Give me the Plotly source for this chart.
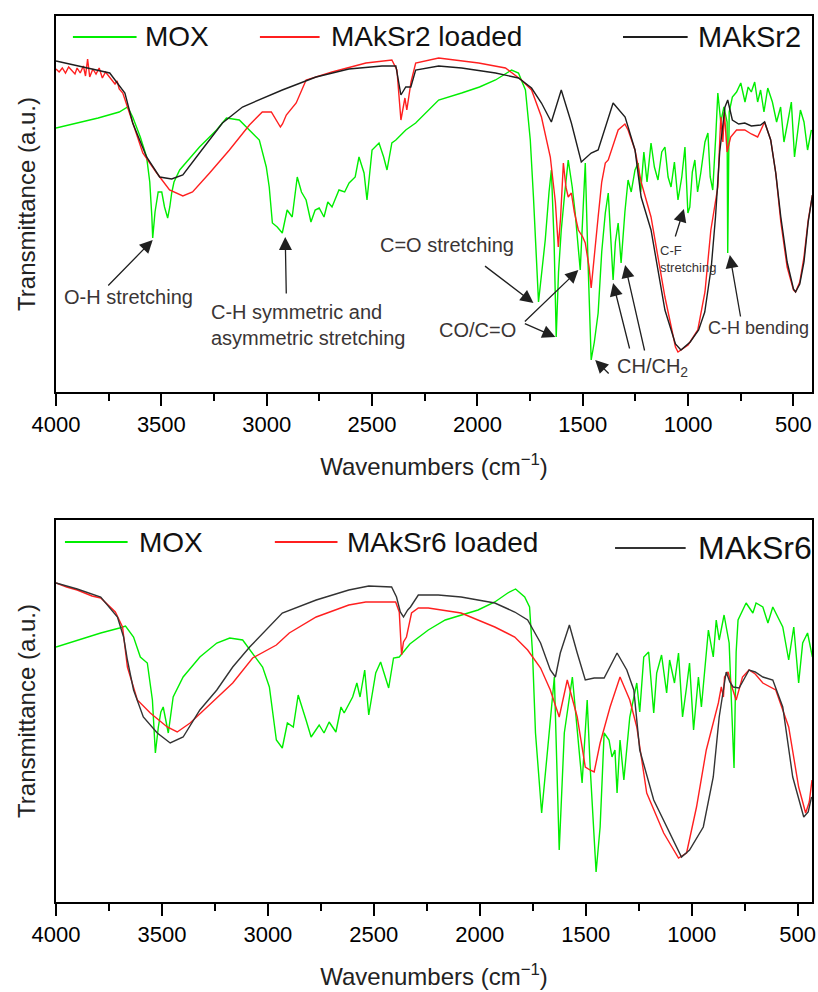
import plotly.graph_objects as go

# ---------------- data (wavenumber cm-1, transmittance a.u.) ----------------
# Top panel
top_black_wn = [4000, 3855, 3745, 3673, 3636, 3570, 3508, 3451, 3398, 3319, 3210, 3115, 2926, 2766, 2610, 2453,
                2387, 2363, 2340, 2316, 2293, 2184, 2075, 1914, 1805, 1743, 1696, 1649, 1602, 1554, 1507, 1460,
                1427, 1356, 1299, 1252, 1223, 1176, 1110, 1060, 1034, 990, 950, 921, 890, 870, 850, 825, 812,
                790, 760, 731, 700, 656, 637, 608, 584, 560, 530, 500, 490, 470, 450, 430, 410]
top_black = [331, 324, 319, 299, 269, 235, 215, 213, 217, 239, 269, 285, 302, 315, 323, 326,
             326, 297, 305, 305, 322, 326, 324, 319, 314, 304, 289, 270, 302, 269, 230, 239,
             242, 289, 275, 242, 195, 162, 82, 48, 42, 50, 62, 80, 125, 175, 240, 285, 292,
             272, 268, 269, 266, 267, 270, 252, 219, 175, 130, 103, 100, 108, 130, 170, 197]

top_red_wn = [4000, 3985, 3970, 3955, 3940, 3925, 3910, 3900, 3885, 3870, 3860, 3850, 3840, 3825, 3810, 3795,
              3780, 3765, 3750, 3735, 3720, 3710, 3700, 3683, 3660, 3640, 3588,
              3522, 3461, 3398, 3352, 3271, 3177, 3082, 3021, 2978, 2955, 2935, 2925, 2907, 2860, 2813, 2690,
              2529, 2406, 2382, 2363, 2350, 2344, 2335, 2315, 2293, 2184, 1994, 1867, 1791, 1743, 1696, 1654,
              1630, 1616, 1605, 1592, 1580, 1569, 1554, 1540, 1521, 1500, 1488, 1470, 1460, 1445, 1427, 1410,
              1393, 1379, 1332, 1300, 1285, 1252, 1223, 1176, 1110, 1060, 1048, 1000, 954, 920, 892, 859,
              845, 835, 828, 815, 798, 770, 731, 700, 670, 637, 608, 584, 560, 530, 500, 490, 470, 450,
              430, 410]
top_red = [323, 320, 324, 319, 325, 321, 318, 324, 319, 326, 316, 333, 315, 323, 318, 324,
           314, 320, 316, 312, 308, 311, 303, 299, 285, 272, 239,
           219, 202, 196, 200, 219, 242, 267, 280, 280, 272, 265, 268, 277, 289, 312, 320,
           329, 332, 322, 272, 290, 294, 282, 310, 329, 334, 329, 324, 312, 302, 275, 235,
           190, 145, 175, 229, 205, 195, 199, 180, 162, 155, 149, 125, 104, 140, 175, 210,
           229, 232, 262, 268, 262, 242, 210, 175, 95, 45, 40, 47, 62, 100, 162, 205,
           275, 250, 280, 240, 255, 262, 262, 258, 255, 270, 252, 219, 170, 125, 102, 100, 110, 135,
           172, 197]

top_green_wn = [4000, 3900, 3800, 3700, 3660, 3636, 3600, 3570, 3555, 3545, 3541, 3530, 3515, 3498, 3485, 3470,
                3460, 3451, 3440, 3413, 3319, 3238, 3191, 3130, 3082, 3035, 3002, 2988, 2973, 2950, 2926, 2903,
                2879, 2855, 2835, 2813, 2790, 2770, 2751, 2728, 2710, 2690, 2657, 2630, 2609, 2580, 2562, 2538,
                2524, 2500, 2467, 2445, 2429, 2406, 2387, 2340, 2293, 2231, 2184, 2075, 1990, 1914, 1838, 1805,
                1772, 1749, 1734, 1710, 1690, 1678, 1660, 1649, 1636, 1626, 1615, 1602, 1585, 1569, 1550, 1536,
                1512, 1500, 1488, 1475, 1460, 1445, 1427, 1410, 1393, 1379, 1368, 1356, 1345, 1332, 1318, 1300,
                1285, 1270, 1252, 1237, 1225, 1210, 1195, 1176, 1160, 1143, 1125, 1110, 1095, 1081, 1065, 1048,
                1030, 1015, 1001, 992, 980, 968, 955, 940, 920, 906, 895, 883, 869, 859, 845, 830,
                815, 812, 805, 790, 770, 750, 730, 715, 700, 684, 670, 656, 640, 622, 600, 580,
                561, 545, 528, 510, 495, 480, 467, 450, 433, 415]
top_green = [264, 269, 274, 280, 285, 275, 255, 235, 210, 175, 154, 180, 200, 200, 185, 174,
             185, 199, 210, 222, 245, 262, 274, 272, 262, 252, 225, 205, 169, 165, 159, 182,
             175, 215, 200, 192, 170, 182, 184, 175, 190, 185, 202, 200, 209, 215, 235, 219,
             192, 242, 249, 235, 222, 249, 252, 262, 269, 282, 292, 299, 305, 312, 322, 319,
             302, 252, 195, 90, 130, 152, 200, 222, 150, 55, 120, 162, 200, 232, 205, 179,
             122, 175, 229, 130, 32, 50, 79, 140, 179, 199, 160, 112, 150, 169, 129, 180,
             212, 200, 222, 229, 200, 240, 210, 249, 225, 212, 240, 245, 215, 205, 230, 192,
             215, 245, 179, 185, 220, 232, 200, 219, 250, 259, 215, 202, 255, 299, 270, 285,
             270, 139, 280, 295, 300, 309, 290, 305, 300, 310, 290, 302, 280, 304, 290, 270,
             285, 250, 269, 290, 235, 260, 282, 270, 242, 262]

# Bottom panel
bot_black_wn = [4000, 3900, 3789, 3710, 3681, 3663, 3634, 3588, 3522, 3461, 3400, 3321, 3241, 3166, 3086, 3007,
                2932, 2772, 2618, 2524, 2416, 2393, 2375, 2360, 2340, 2327, 2290, 2196, 2088, 1929, 1835, 1774,
                1713, 1667, 1643, 1620, 1577, 1540, 1502, 1460, 1413, 1352, 1306, 1273, 1245, 1179, 1104, 1048,
                1010, 945, 898, 870, 837, 820, 804, 776, 729, 700, 664, 617, 570, 523, 471, 450, 434]
bot_black = [329, 323, 315, 295, 275, 252, 222, 195, 179, 169, 175, 202, 222, 245, 265, 282,
             299, 312, 322, 326, 325, 315, 300, 295, 302, 305, 317, 317, 315, 309, 300, 292,
             269, 242, 235, 259, 287, 259, 232, 234, 234, 259, 242, 222, 162, 112, 79, 55,
             62, 85, 135, 195, 240, 230, 225, 224, 242, 240, 235, 232, 205, 135, 95, 100, 115]

bot_red_wn = [4000, 3950, 3900, 3869, 3830, 3789, 3720, 3686, 3663, 3616, 3555, 3475, 3428, 3367, 3288, 3166, 3072, 2960,
              2899, 2772, 2618, 2538, 2397, 2380, 2369, 2360, 2346, 2322, 2290, 2243, 2088, 1929, 1835, 1774,
              1713, 1667, 1625, 1587, 1540, 1502, 1480, 1460, 1432, 1385, 1338, 1292, 1259, 1212, 1132, 1062,
              1024, 977, 931, 874, 860, 850, 845, 828, 810, 790, 760, 729, 700, 664, 603, 542, 495, 462,
              445, 432]
bot_red = [329, 325, 322, 319, 316, 314, 300, 285, 245, 212, 199, 185, 180, 189, 205, 229, 254, 267,
           279, 295, 307, 310, 310, 300, 257, 270, 275, 299, 304, 304, 299, 285, 275, 262,
           244, 222, 195, 232, 195, 145, 142, 140, 169, 205, 235, 212, 185, 119, 79, 54,
           59, 105, 162, 209, 225, 215, 235, 240, 225, 212, 235, 242, 238, 229, 222, 185, 125, 99,
           110, 132]

bot_green_wn = [4000, 3900, 3789, 3700, 3672, 3634, 3602, 3569, 3545, 3531, 3517, 3505, 3494, 3470, 3447, 3400,
                3321, 3241, 3180, 3119, 3072, 3025, 2993, 2960, 2932, 2908, 2880, 2857, 2820, 2796, 2758, 2735,
                2711, 2679, 2655, 2640, 2600, 2580, 2565, 2543, 2524, 2491, 2468, 2444, 2430, 2407, 2380, 2330,
                2289, 2243, 2163, 2088, 2008, 1929, 1868, 1831, 1788, 1765, 1751, 1737, 1708, 1680, 1648, 1625,
                1601, 1563, 1540, 1517, 1493, 1479, 1451, 1432, 1413, 1390, 1376, 1362, 1352, 1338, 1320, 1292,
                1259, 1245, 1226, 1203, 1179, 1165, 1142, 1118, 1104, 1081, 1062, 1043, 1024, 1010, 991, 968,
                954, 921, 898, 884, 870, 847, 823, 800, 790, 781, 743, 711, 696, 664, 640, 617,
                570, 542, 518, 495, 476, 453, 430]
bot_green = [265, 272, 279, 284, 286, 275, 255, 249, 212, 159, 185, 200, 205, 179, 215, 235,
             255, 269, 274, 272, 259, 245, 225, 172, 164, 189, 185, 217, 192, 175, 187, 179,
             190, 180, 205, 199, 215, 229, 215, 242, 197, 239, 250, 232, 224, 254, 255, 268,
             275, 282, 292, 297, 302, 310, 319, 323, 315, 305, 259, 179, 99, 162, 235, 62,
             179, 235, 179, 129, 212, 145, 40, 85, 179, 172, 155, 162, 119, 172, 132, 195,
             229, 200, 255, 260, 199, 239, 257, 219, 252, 229, 259, 195, 225, 249, 182, 235,
             205, 282, 255, 292, 272, 297, 269, 144, 260, 292, 309, 299, 309, 305, 289, 305,
             285, 252, 285, 229, 269, 279, 255]

x_ticks = [4000, 3500, 3000, 2500, 2000, 1500, 1000, 500]
x_minor = [3750, 3250, 2750, 2250, 1750, 1250, 750]
top_names = ["MOX", "MAkSr2 loaded", "MAkSr2"]
bot_names = ["MOX", "MAkSr6 loaded", "MAkSr6"]

GREEN = "#00ee00"
RED = "#ff1f1f"
BLACK = "#1e1e1e"
FONT = "Liberation Sans, Arial, sans-serif"

# ---------------- layout helpers (pixel -> paper) ----------------
W, H = 818, 992
ML, MR, MT, MB = 56, 2, 16, 90
PW, PH = W - ML - MR, H - MT - MB


def fx(px):
    return (px - ML) / PW


def fy(py):
    return (H - MB - py) / PH


fig = go.Figure()

series = [
    ("x", "y", top_green_wn, top_green, GREEN, top_names[0]),
    ("x", "y", top_red_wn, top_red, RED, top_names[1]),
    ("x", "y", top_black_wn, top_black, BLACK, top_names[2]),
    ("x2", "y2", bot_green_wn, bot_green, GREEN, bot_names[0]),
    ("x2", "y2", bot_red_wn, bot_red, RED, bot_names[1]),
    ("x2", "y2", bot_black_wn, bot_black, "#333333", bot_names[2]),
]
for xa, ya, xs, ys, col, nm in series:
    fig.add_trace(go.Scatter(x=xs, y=ys, mode="lines", name=nm, xaxis=xa, yaxis=ya,
                             line=dict(color=col, width=1.4), showlegend=False))

axis_common = dict(showline=True, mirror=True, linecolor="black", linewidth=2,
                   showgrid=False, zeroline=False)
xaxis_common = dict(axis_common, tickvals=x_ticks, ticks="outside", ticklen=12, tickwidth=2,
                    tickcolor="black", tickfont=dict(family=FONT, size=22, color="black"),
                    minor=dict(tickvals=x_minor, ticks="outside",
                               ticklen=7, tickwidth=2, tickcolor="black"),
                    title=dict(text="Wavenumbers (cm<sup>−1</sup>)",
                               font=dict(family=FONT, size=24, color="#222"), standoff=22))
yaxis_common = dict(axis_common, showticklabels=False, ticks="",
                    title=dict(text="Transmittance (a.u.)",
                               font=dict(family=FONT, size=24, color="#222"), standoff=12))

fig.update_layout(
    width=W, height=H,
    margin=dict(l=ML, r=MR, t=MT, b=MB),
    paper_bgcolor="white", plot_bgcolor="white",
    xaxis=dict(xaxis_common, range=[4000, 412], domain=[0, 1], anchor="y"),
    yaxis=dict(yaxis_common, range=[0, 376], domain=[fy(392), 1], anchor="x"),
    xaxis2=dict(xaxis_common, range=[4000, 432], domain=[0, 1], anchor="y2"),
    yaxis2=dict(yaxis_common, range=[10, 392], domain=[0, fy(520)], anchor="x2"),
    showlegend=False,
)

# ---------------- legends (manual, as in the original) ----------------
legend_items = [
    (73, 137, 143, 37, GREEN, top_names[0], 28),
    (261, 321, 330, 37, RED, top_names[1], 28),
    (626, 691, 699, 37, BLACK, top_names[2], 29),
    (65, 128, 137, 542, GREEN, bot_names[0], 28),
    (276, 339, 347, 542, RED, bot_names[1], 28),
    (618, 689, 699, 548, "#333333", bot_names[2], 32),
]
for x0, x1, xt, yy, col, nm, fs in legend_items:
    fig.add_shape(type="line", xref="paper", yref="paper", x0=fx(x0), x1=fx(x1), y0=fy(yy), y1=fy(yy),
                  line=dict(color=col, width=2))
    fig.add_annotation(xref="paper", yref="paper", x=fx(xt), y=fy(yy), text=nm, showarrow=False,
                       xanchor="left", yanchor="middle", font=dict(family=FONT, size=fs, color="#111"))

# ---------------- peak annotations (top panel) ----------------
ANN = "#3a3535"
texts = [
    ("O-H stretching", 3655, 95, "center", 20),
    ("C-H symmetric and<br>asymmetric stretching", 3272, 67, "left", 20),
    ("C=O stretching", 2146, 147, "center", 20),
    ("CO/C=O", 1999, 62, "center", 20),
    ("CH/CH<sub>2</sub>", 1346, 25, "left", 20),
    ("C-F<br>stretching", 1143, 133, "left", 13),
    ("C-H bending", 665, 64, "center", 18),
]
for t, xx, yy, anc, fs in texts:
    fig.add_annotation(xref="x", yref="y", x=xx, y=yy, text=t, showarrow=False, xanchor=anc,
                       yanchor="middle", align="left", font=dict(family=FONT, size=fs, color=ANN))

arrows = [
    (3759, 105, 3541, 152),
    (2907, 97, 2912, 155),
    (1971, 127, 1734, 89),
    (1782, 69, 1521, 122),
    (1782, 69, 1630, 55),
    (1370, 17, 1441, 32),
    (1276, 42, 1356, 109),
    (1205, 40, 1299, 127),
    (1063, 154, 1020, 183),
    (750, 74, 802, 137),
]
for ax, ay, hx, hy in arrows:
    fig.add_annotation(xref="x", yref="y", axref="x", ayref="y", x=hx, y=hy, ax=ax, ay=ay, text="",
                       showarrow=True, arrowhead=2, arrowsize=2.0, arrowwidth=1.3, arrowcolor="#202020")

fig.write_html("out.html")
